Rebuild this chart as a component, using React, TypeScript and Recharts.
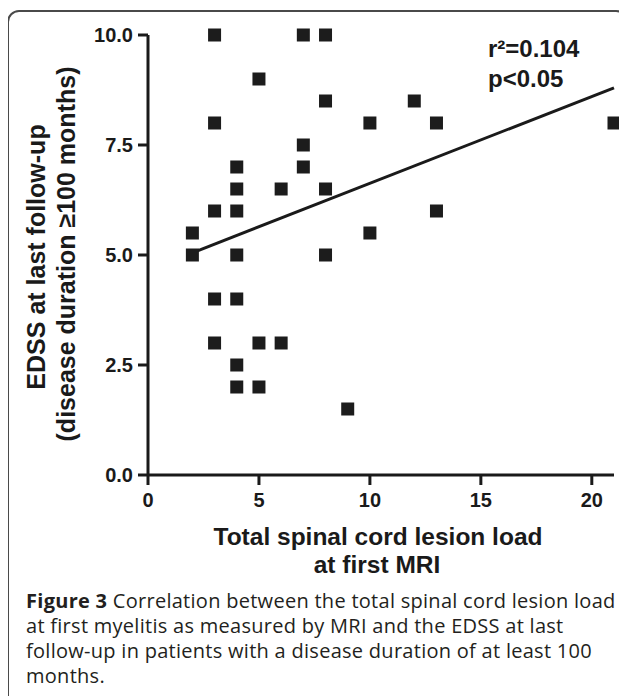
import React from 'react';
import { ScatterChart, Scatter, XAxis, YAxis, ReferenceLine } from 'recharts';

// lesion load at first MRI vs EDSS at last follow-up
const lesionLoad = [2, 2, 3, 3, 3, 3, 3, 4, 4, 4, 4, 4, 4, 4, 5, 5, 5, 6, 6, 7, 7, 7, 8, 8, 8, 8, 9, 10, 10, 12, 13, 13, 21];
const edss = [5.5, 5, 10, 8, 6, 4, 3, 7, 6.5, 6, 5, 4, 2.5, 2, 9, 3, 2, 6.5, 3, 10, 7.5, 7, 10, 8.5, 6.5, 5, 1.5, 8, 5.5, 8.5, 8, 6, 8];

const xTicks = [0, 5, 10, 15, 20];
const yTicks = [0, 2.5, 5, 7.5, 10];

// fitted line endpoints as drawn
const fitX = [2, 21];
const fitY = [5.05, 8.8];

const captionLines = [
  'Correlation between the total spinal cord lesion load',
  'at first myelitis as measured by MRI and the EDSS at last',
  'follow-up in patients with a disease duration of at least 100',
  'months.',
];

const points = lesionLoad.map((x, i) => ({ x, y: edss[i] }));

const ink = '#1a1a1a';
const axisFont = '"Liberation Sans", Arial, sans-serif';

const Square = (props: any) => {
  const { cx, cy } = props;
  return <rect x={cx - 6.5} y={cy - 6.5} width={13} height={13} fill="#1c1c1c" />;
};

const App: React.FC = () => {
  const tickStyle = { fontSize: 20, fontWeight: 'bold', fontFamily: axisFont, fill: ink };
  return (
    <div style={{ position: 'relative', width: 627, height: 696, margin: '-8px 0 0 -8px', overflow: 'hidden', background: '#fff' }}>
      <div
        style={{
          position: 'absolute',
          left: 7,
          top: 10,
          width: 617,
          height: 720,
          border: '2px solid #4a4a4a',
          borderRadius: '12px 12px 0 0',
        }}
      />
      <div style={{ position: 'absolute', left: 0, top: 0 }}>
        <ScatterChart width={627} height={600} margin={{ top: 35, right: 13, bottom: 95, left: 88 }}>
          <XAxis
            type="number"
            dataKey="x"
            domain={[0, 21]}
            ticks={xTicks}
            height={30}
            tickSize={10}
            tickMargin={8}
            tick={tickStyle}
            axisLine={{ stroke: ink, strokeWidth: 3 }}
            tickLine={{ stroke: ink, strokeWidth: 3 }}
          />
          <YAxis
            type="number"
            dataKey="y"
            domain={[0, 10]}
            ticks={yTicks}
            width={60}
            tickSize={10}
            tickMargin={5}
            tickFormatter={(v: number) => v.toFixed(1)}
            tick={tickStyle}
            axisLine={{ stroke: ink, strokeWidth: 3 }}
            tickLine={{ stroke: ink, strokeWidth: 3 }}
          />
          <ReferenceLine
            segment={[
              { x: fitX[0], y: fitY[0] },
              { x: fitX[1], y: fitY[1] },
            ]}
            stroke={ink}
            strokeWidth={3}
            ifOverflow="visible"
          />
          <Scatter data={points} shape={Square} isAnimationActive={false} />
        </ScatterChart>
      </div>
      <svg width={627} height={696} style={{ position: 'absolute', left: 0, top: 0, pointerEvents: 'none' }}>
        <g fontFamily={axisFont} fontWeight="bold" fill={ink}>
          <text transform="translate(45,257) rotate(-90)" textAnchor="middle" fontSize={25}>
            EDSS at last follow-up
          </text>
          <text transform="translate(75,254) rotate(-90)" textAnchor="middle" fontSize={25}>
            (disease duration ≥100 months)
          </text>
          <text x={378} y={545} textAnchor="middle" fontSize={24.5}>
            Total spinal cord lesion load
          </text>
          <text x={377} y={573} textAnchor="middle" fontSize={24.5}>
            at first MRI
          </text>
          <text x={488} y={57} fontSize={24}>
            r²=0.104
          </text>
          <text x={488} y={87} fontSize={24}>
            p&lt;0.05
          </text>
        </g>
        <g fontFamily='"Open Sans", "Noto Sans", sans-serif' fontSize={20} letterSpacing={0.28} fill="#231f20">
          {captionLines.map((line, i) => (
            <text key={i} x={26} y={608 + i * 25}>
              {i === 0 && <tspan fontWeight="bold">Figure 3 </tspan>}
              {line}
            </text>
          ))}
        </g>
      </svg>
    </div>
  );
};

export default App;
